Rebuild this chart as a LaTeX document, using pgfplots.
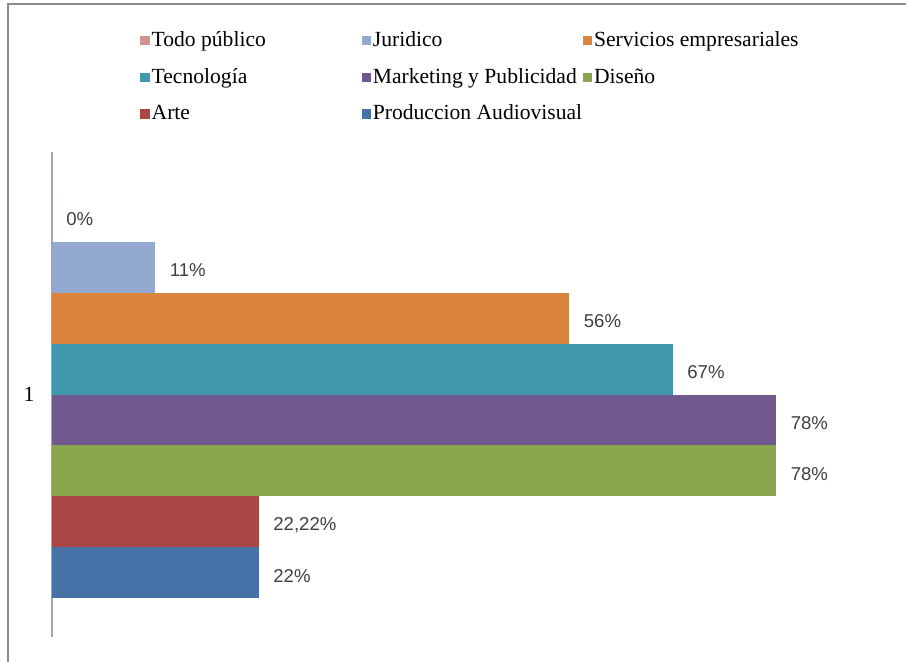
\documentclass[border=0pt]{standalone}
\usepackage{fontspec}
\setmainfont{Liberation Serif}
\newfontfamily\labfont{Liberation Sans}
\usepackage{pgfplots}
\pgfplotsset{compat=1.18}

\definecolor{cTodo}{HTML}{D19392}
\definecolor{cJur}{HTML}{93A9CF}
\definecolor{cServ}{HTML}{DB843D}
\definecolor{cTec}{HTML}{4198AF}
\definecolor{cMkt}{HTML}{71588F}
\definecolor{cDis}{HTML}{89A54E}
\definecolor{cArte}{HTML}{AA4643}
\definecolor{cProd}{HTML}{4572A7}
\definecolor{frame}{HTML}{8A8A8A}
\definecolor{labgray}{HTML}{404040}

\begin{document}
\begin{tikzpicture}
\path[use as bounding box] (0,0) rectangle (453pt,-330.5pt);
\draw[frame, line width=1pt] (4pt,-331pt) -- (4pt,-2pt) -- (454pt,-2pt);
\begin{axis}[
  at={(26pt,-318.5pt)}, anchor=south west,
  scale only axis, width=414.45pt, height=242.5pt,
  xbar, bar width=0.105, bar shift=0pt,
  xmin=0, xmax=89, ymin=0.5, ymax=1.5,
  hide x axis, axis y line*=left,
  y axis line style={draw=gray!70, line width=0.5pt},
  ytick={1}, yticklabels={1}, ytick style={draw=none},
  yticklabel style={xshift=-1pt, font=\fontsize{10.8}{13}\selectfont},
  point meta=explicit symbolic,
  nodes near coords,
  nodes near coords style={anchor=west, inner sep=0pt, xshift=7pt, yshift=-1.5pt,
    text=labgray, font=\labfont\fontsize{9.3}{11}\selectfont},
  legend columns=3,
  legend image code/.code={\fill[#1] (0pt,-2.3pt) rectangle (4.6pt,2.3pt);},
  legend style={draw=none, fill=none, at={(0.099,1.2613)}, anchor=north west,
    font=\fontsize{10.8}{13}\selectfont, row sep=7.3pt,
    cells={anchor=west}, nodes={inner xsep=1pt, inner ysep=1pt}},
]
\addplot[fill=cTodo, draw=none] coordinates {(0,1.3675) [0\%]};
\addlegendentry{\makebox[104pt][l]{Todo público}}
\addplot[fill=cJur, draw=none] coordinates {(11.11,1.2625) [11\%]};
\addlegendentry{\makebox[104pt][l]{Juridico}}
\addplot[fill=cServ, draw=none] coordinates {(55.56,1.1575) [56\%]};
\addlegendentry{\makebox[104pt][l]{Servicios empresariales}}
\addplot[fill=cTec, draw=none] coordinates {(66.67,1.0525) [67\%]};
\addlegendentry{\makebox[104pt][l]{Tecnología}}
\addplot[fill=cMkt, draw=none] coordinates {(77.78,0.9475) [78\%]};
\addlegendentry{\makebox[104pt][l]{Marketing y Publicidad}}
\addplot[fill=cDis, draw=none] coordinates {(77.78,0.8425) [78\%]};
\addlegendentry{\makebox[104pt][l]{Diseño}}
\addplot[fill=cArte, draw=none] coordinates {(22.22,0.7375) [{22,22\%}]};
\addlegendentry{\makebox[104pt][l]{Arte}}
\addplot[fill=cProd, draw=none] coordinates {(22.22,0.6325) [22\%]};
\addlegendentry{\makebox[104pt][l]{Produccion Audiovisual}}
\end{axis}
\end{tikzpicture}
\end{document}
